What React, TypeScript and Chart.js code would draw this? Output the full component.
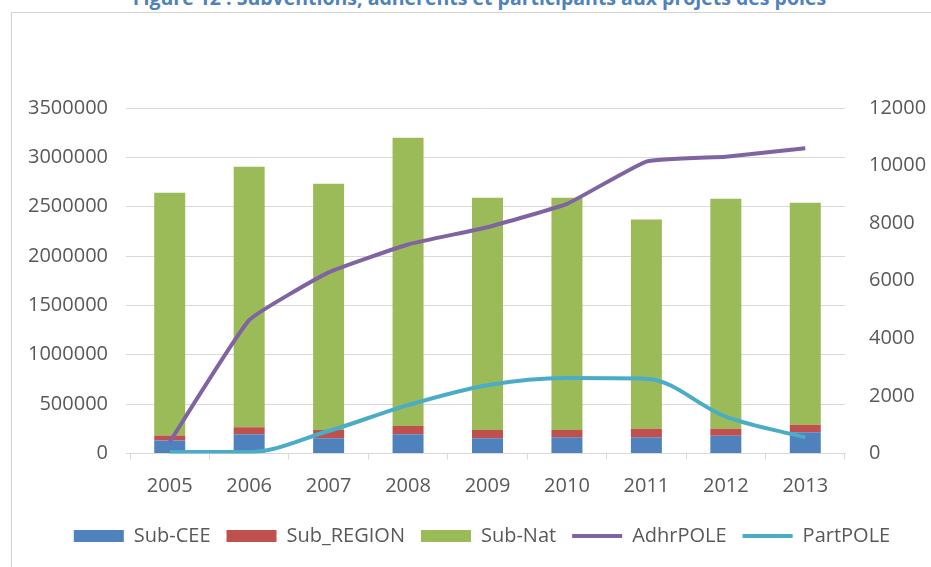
import React, { useEffect, useRef } from "react";
import { Chart, registerables } from "chart.js";

Chart.register(...registerables);

const years = ["2005", "2006", "2007", "2008", "2009", "2010", "2011", "2012", "2013"];
const subCEE = [131000, 194000, 154000, 194000, 154000, 164000, 164000, 180000, 215000];
const subRegion = [51000, 71000, 84000, 84000, 84000, 74000, 87000, 71000, 76000];
const subNat = [2460000, 2640000, 2495000, 2920000, 2352000, 2352000, 2119000, 2329000, 2249000];
const adhrPole = [400, 4630, 6290, 7260, 7860, 8670, 10140, 10310, 10600];
const partPole = [50, 50, 780, 1680, 2370, 2620, 2600, 1280, 560];

const TITLE = "Figure 12 : Subventions, adhérents et participants aux projets des pôles";
const FONT = "'Open Sans', 'DejaVu Sans', sans-serif";
const GRAY = "#595959";
const GRID = "#d9d9d9";

export default function App() {
  const ref = useRef<HTMLCanvasElement | null>(null);

  useEffect(() => {
    if (!ref.current) return;
    const chart = new Chart(ref.current, {
      type: "bar",
      data: {
        labels: years,
        datasets: [
          { type: "bar", label: "Sub-CEE", data: subCEE, backgroundColor: "#4F81BD", yAxisID: "y", stack: "s", order: 1 } as any,
          { type: "bar", label: "Sub_REGION", data: subRegion, backgroundColor: "#C0504D", yAxisID: "y", stack: "s", order: 1 } as any,
          { type: "bar", label: "Sub-Nat", data: subNat, backgroundColor: "#9BBB59", yAxisID: "y", stack: "s", order: 1 } as any,
          { type: "line", label: "AdhrPOLE", data: adhrPole, borderColor: "#8064A2", backgroundColor: "#8064A2", borderWidth: 4, pointRadius: 0, tension: 0.12, yAxisID: "y1", order: 0 } as any,
          { type: "line", label: "PartPOLE", data: partPole, borderColor: "#4BACC6", backgroundColor: "#4BACC6", borderWidth: 4, pointRadius: 0, cubicInterpolationMode: "monotone", yAxisID: "y1", order: -1 } as any,
        ],
      },
      options: {
        responsive: false,
        animation: false,
        layout: { padding: { left: 4, right: 0, top: 108, bottom: 11 } },
        datasets: { bar: { barPercentage: 0.39, categoryPercentage: 1 } },
        plugins: {
          tooltip: { enabled: false },
          title: { display: false },
          legend: {
            position: "bottom",
            labels: {
              color: GRAY,
              font: { family: FONT, size: 20 },
              usePointStyle: true,
              pointStyleWidth: 50,
              boxHeight: 12,
              padding: 16,
              sort: (a: any, b: any) => a.datasetIndex - b.datasetIndex,
              generateLabels: (ch: any) => {
                const items = (Chart.defaults.plugins.legend.labels as any).generateLabels(ch);
                items.forEach((it: any) => {
                  const ds: any = ch.data.datasets[it.datasetIndex];
                  if (ds.type === "line") {
                    it.pointStyle = "line";
                    it.strokeStyle = ds.borderColor;
                    it.lineWidth = 4;
                  } else {
                    it.pointStyle = "rect";
                    it.lineWidth = 0;
                  }
                });
                return items;
              },
            },
          },
        },
        scales: {
          x: {
            stacked: true,
            offset: true,
            grid: { display: true, drawOnChartArea: false, drawTicks: true, tickLength: 6, color: GRID, offset: true },
            border: { display: true, color: GRID, width: 1 },
            ticks: { color: GRAY, font: { family: FONT, size: 20 }, padding: 15, maxRotation: 0 },
            afterFit: (s: any) => { s.height = 56.5; },
          },
          y: {
            position: "left",
            stacked: true,
            min: 0,
            max: 3500000,
            grid: { color: GRID, lineWidth: 1, drawTicks: true, tickLength: 4 },
            border: { display: false },
            ticks: { stepSize: 500000, color: GRAY, font: { family: FONT, size: 20 }, padding: 18, callback: (v: any) => String(v) },
            afterFit: (s: any) => { s.width = 126; },
          },
          y1: {
            position: "right",
            min: 0,
            max: 12000,
            grid: { display: false, drawOnChartArea: false, drawTicks: false },
            border: { display: false },
            ticks: { stepSize: 2000, color: GRAY, font: { family: FONT, size: 20 }, padding: 24, callback: (v: any) => String(v) },
            afterFit: (s: any) => { s.width = 115; },
          },
        },
      },
    });
    return () => chart.destroy();
  }, []);

  return (
    <div style={{ position: "fixed", left: 0, top: 0, width: 931, height: 567, overflow: "hidden", background: "#fff" }}>
      <div
        style={{
          position: "absolute",
          left: 14,
          top: -12,
          width: 931,
          textAlign: "center",
          fontFamily: FONT,
          fontWeight: 700,
          fontSize: 19.5,
          lineHeight: "19.5px",
          color: "#4F81BD",
          whiteSpace: "nowrap",
        }}
      >
        {TITLE}
      </div>
      <div
        style={{
          position: "absolute",
          left: 11,
          top: 12,
          width: 960,
          height: 600,
          border: "1.5px solid #d4d4d4",
          boxSizing: "border-box",
          boxShadow: "0 1px 2px rgba(0,0,0,0.08)",
        }}
      />
      <canvas ref={ref} width={960} height={567} style={{ position: "absolute", left: 0, top: 0, width: 960, height: 567 }} />
    </div>
  );
}
